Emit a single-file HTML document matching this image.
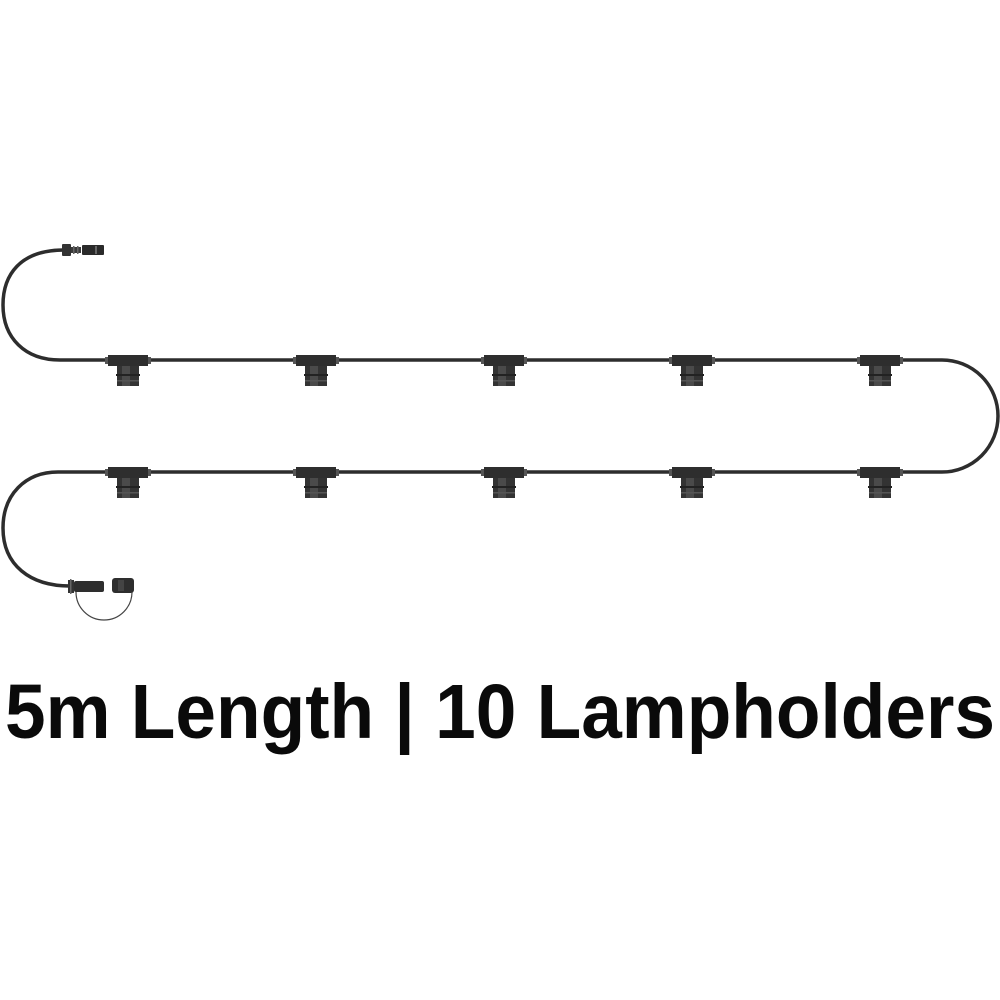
<!DOCTYPE html>
<html><head><style>html,body{margin:0;padding:0;background:#fff}svg{display:block}</style></head>
<body>
<svg width="1000" height="1000" viewBox="0 0 1000 1000" xmlns="http://www.w3.org/2000/svg">
<defs>
<g id="lh">
  <rect x="-20" y="-6" width="40" height="11" fill="#2e2e2e"/>
  <rect x="-23" y="-4" width="3" height="7" fill="#555"/>
  <rect x="20" y="-4" width="3" height="7" fill="#555"/>
  <rect x="-11" y="5" width="22" height="20" fill="#333"/>
  <rect x="-6" y="5" width="8" height="20" fill="#4a4a4a"/>
  <rect x="-12" y="13" width="24" height="2" fill="#222"/>
  <rect x="-11" y="19" width="22" height="1.5" fill="#555"/>
</g>
</defs>
<g fill="none" stroke="#2d2d2d" stroke-width="3.5">
  <!-- top cable -->
  <path d="M64 250 C20 250 3 275 3 305 C3 338 25 360 60 360 L942 360 A56 56 0 0 1 942 472 L58 472 C25 472 3 495 3 528 C3 565 30 586 70 586"/>
</g>
<!-- top connector -->
<rect x="62" y="244" width="9" height="12" rx="1" fill="#333"/>
<rect x="71" y="247" width="10" height="6" fill="#3a3a3a"/>
<rect x="73" y="246" width="1.5" height="8" fill="#666"/>
<rect x="77" y="246" width="1.5" height="8" fill="#666"/>
<rect x="82" y="245" width="22" height="10" rx="1" fill="#2a2a2a"/>
<rect x="95" y="246" width="2" height="8" fill="#666"/>
<!-- bottom connector -->
<rect x="68" y="580" width="6" height="13" fill="#333"/>
<rect x="74" y="581" width="30" height="11" rx="2" fill="#2e2e2e"/>
<rect x="70" y="579" width="1.5" height="15" fill="#666"/>
<rect x="112" y="578" width="22" height="15" rx="3" fill="#2e2e2e"/>
<rect x="118" y="580" width="6" height="11" fill="#444"/>
<path d="M76 592 A28 28 0 0 0 132 592" fill="none" stroke="#444" stroke-width="1.2"/>
<!-- lampholders -->
<use href="#lh" x="128" y="361"/><use href="#lh" x="316" y="361"/><use href="#lh" x="504" y="361"/><use href="#lh" x="692" y="361"/><use href="#lh" x="880" y="361"/>
<use href="#lh" x="128" y="473"/><use href="#lh" x="316" y="473"/><use href="#lh" x="504" y="473"/><use href="#lh" x="692" y="473"/><use href="#lh" x="880" y="473"/>
<text x="5" y="738" font-family="Liberation Sans, sans-serif" font-weight="bold" font-size="77" fill="#0a0a0a" textLength="990" lengthAdjust="spacingAndGlyphs">5m Length | 10 Lampholders</text>
</svg>
</body></html>
